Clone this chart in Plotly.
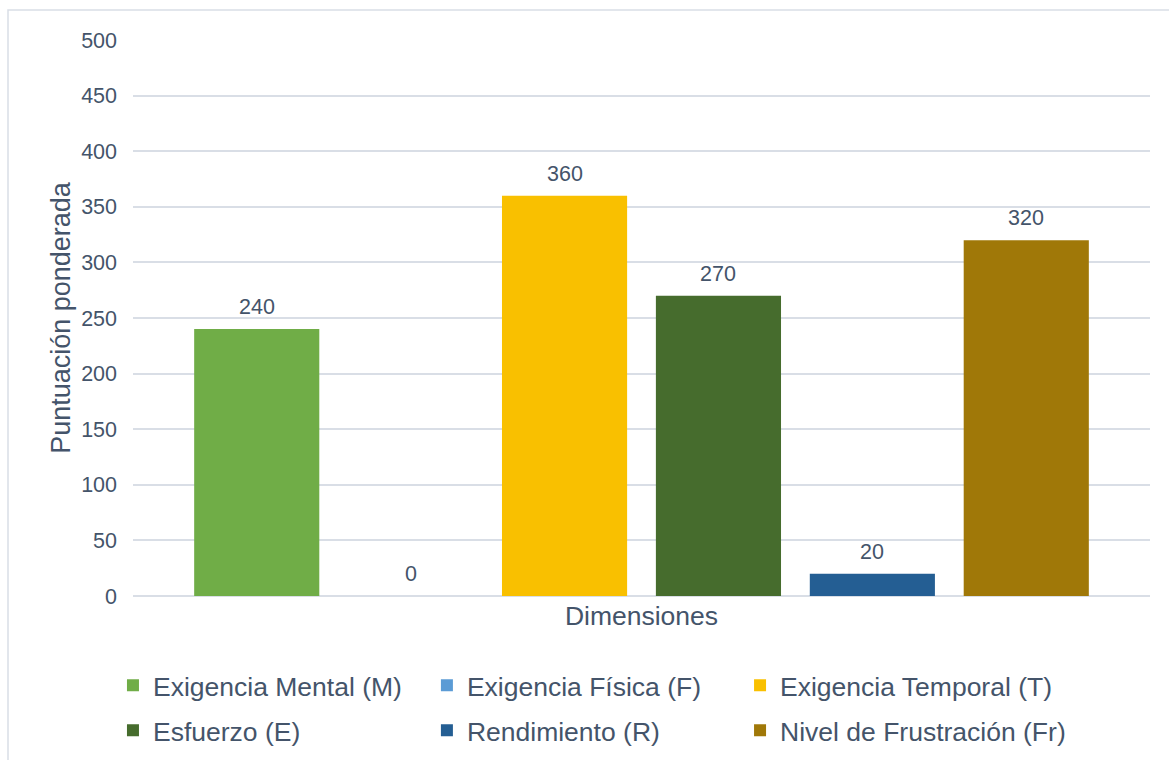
import plotly.graph_objects as go

# Weighted workload scores per dimension
category = ["Dimensiones"]
dimensions = [
    "Exigencia Mental (M)",
    "Exigencia Física (F)",
    "Exigencia Temporal (T)",
    "Esfuerzo (E)",
    "Rendimiento (R)",
    "Nivel de Frustración (Fr)",
]
scores = [240, 0, 360, 270, 20, 320]
colors = ["#70AD47", "#5B9BD5", "#F9C000", "#466C2D", "#245E93", "#A07808"]

y_ticks = [0, 50, 100, 150, 200, 250, 300, 350, 400, 450, 500]

TEXT = "#44546A"
GRID = "#D9DEE6"
FONT = "Liberation Sans, Arial, sans-serif"

BARGAP = 0.092
BARGROUPGAP = 0.187

# legend grid: three columns, two rows (one legend box per entry)
legend_ids = ["legend2", "legend3", "legend4", "legend5", "legend6", "legend7"]
legend_x = [-0.0197, 0.289, 0.5969, -0.0197, 0.289, 0.5969]
legend_y = [-0.1178, -0.1178, -0.1178, -0.1988, -0.1988, -0.1988]

fig = go.Figure()
for name, val, col, lg in zip(dimensions, scores, colors, legend_ids):
    fig.add_trace(go.Bar(
        x=category,
        y=[val],
        name=name,
        legend=lg,
        marker=dict(color=col, line=dict(width=0)),
    ))

# value labels above each bar of the single category group
n = len(scores)
slot = (1 - BARGAP) / n
for i, val in enumerate(scores):
    fig.add_annotation(
        x=-(1 - BARGAP) / 2 + slot * (i + 0.5),
        y=val,
        xref="x", yref="y",
        text=str(val),
        showarrow=False,
        yanchor="bottom",
        yshift=8,
        font=dict(size=21.5, color=TEXT, family=FONT),
    )

legend_layout = {}
for lg, lx, ly in zip(legend_ids, legend_x, legend_y):
    legend_layout[lg] = dict(
        orientation="h",
        x=lx, y=ly,
        xanchor="left",
        yanchor="top",
        font=dict(size=26.5, color=TEXT, family=FONT),
        itemclick=False,
        bgcolor="rgba(0,0,0,0)",
    )

fig.update_layout(
    width=1169,
    height=760,
    margin=dict(l=133, r=19, t=40, b=164, autoexpand=False),
    paper_bgcolor="white",
    plot_bgcolor="white",
    font=dict(family=FONT, color=TEXT),
    showlegend=True,
    barmode="group",
    bargap=BARGAP,
    bargroupgap=BARGROUPGAP,
    xaxis=dict(
        showgrid=False,
        showline=False,
        ticks="",
        ticklabelstandoff=1,
        tickfont=dict(size=26.5, color=TEXT, family=FONT),
    ),
    yaxis=dict(
        range=[0, 500],
        tickvals=y_ticks,
        showgrid=True,
        gridcolor=GRID,
        gridwidth=1.6,
        zeroline=True,
        zerolinecolor=GRID,
        zerolinewidth=1.6,
        showline=False,
        ticks="",
        ticklabelstandoff=15,
        automargin=True,
        tickfont=dict(size=21.5, color=TEXT, family=FONT),
        title=dict(text="Puntuación ponderada", standoff=2,
                   font=dict(size=27, color=TEXT, family=FONT)),
    ),
    shapes=[dict(
        type="rect", xref="paper", yref="paper",
        x0=(8 - 133) / 1017, x1=(1185 - 133) / 1017,
        y0=(596 - 780) / 556, y1=(596 - 10) / 556,
        line=dict(color="#D9DEE6", width=1.5),
        fillcolor="rgba(0,0,0,0)",
        layer="below",
    )],
    **legend_layout,
)

fig.write_html("out.html")
